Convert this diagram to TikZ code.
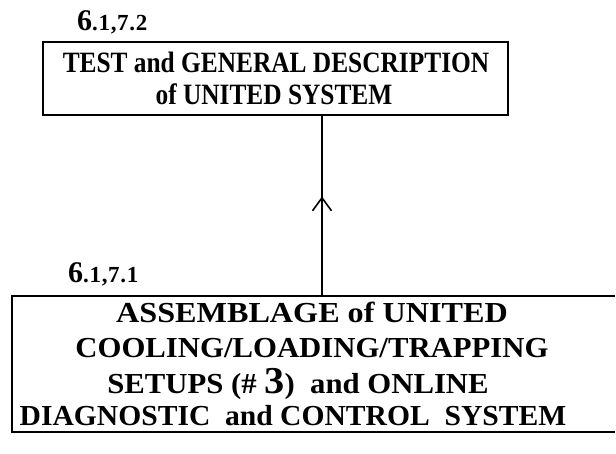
\documentclass[tikz,border=0pt]{standalone}
\usepackage{fontspec}
\setmainfont{Liberation Serif}
\newfontfamily\narrowfont{Liberation Serif}[FakeStretch=0.86]
\newfontfamily\wideA{Liberation Serif}[FakeStretch=1.11]
\newfontfamily\wideB{Liberation Serif}[FakeStretch=1.06]
\newfontfamily\wideC{Liberation Serif}[FakeStretch=1.02]
\newfontfamily\lblfont{Liberation Serif}[LetterSpace=3]
\usetikzlibrary{arrows.meta,decorations.markings}
\begin{document}
\begin{tikzpicture}[x=1pt,y=-1pt,
  topline/.style={font=\narrowfont\bfseries\fontsize{29.5}{33}\selectfont, anchor=base, inner sep=0pt},
  botline/.style={font=\bfseries\fontsize{29}{33}\selectfont, anchor=base, inner sep=0pt},
  lbl/.style={font=\bfseries, anchor=base west, inner sep=0pt},
  conn/.style={line width=2pt},
  midarrow/.style={decoration={markings, mark=at position 0.55 with {\arrow{Straight Barb[length=13pt,width=19pt,line width=1.6pt]}}}, postaction=decorate}
]
\useasboundingbox (0,0) rectangle (616,453);
% top box
\node[draw, line width=1.8pt, minimum width=465pt, minimum height=73pt, inner sep=0pt] (top) at (275.5,78.5) {};
\node[topline] (t1) at (276,72) {TEST and GENERAL DESCRIPTION};
\node[topline] (t2) at (274,104) {of UNITED SYSTEM};
% bottom box
\node[minimum width=603pt, minimum height=136pt, inner sep=0pt] (bot) at (313.5,364) {};
\draw[line width=1.8pt] (bot.north east) -- (bot.north west) -- (bot.south west) -- (bot.south east);
\node[botline, font=\wideA\bfseries\fontsize{29}{33}\selectfont] (b1) at (312,322) {ASSEMBLAGE of UNITED};
\node[botline, font=\wideB\bfseries\fontsize{29}{33}\selectfont] (b2) at (312,357) {COOLING/LOADING/TRAPPING};
\node[botline, font=\wideB\bfseries\fontsize{29}{33}\selectfont] (b3) at (298,393) {SETUPS (\# {\fontsize{38}{35}\selectfont 3})\ \ and ONLINE};
\node[botline, font=\wideC\bfseries\fontsize{29}{33}\selectfont] (b4) at (293,425) {DIAGNOSTIC\ \ and CONTROL\ \ SYSTEM};
% labels
\node[lbl] (l1) at (77,30) {{\fontsize{30}{30}\selectfont 6}{\lblfont\bfseries\fontsize{23}{23}\selectfont .1,7.2}};
\node[lbl] (l2) at (68,282) {{\fontsize{30}{30}\selectfont 6}{\lblfont\bfseries\fontsize{23}{23}\selectfont .1,7.1}};
% connector
\coordinate (c1) at (322,296);
\coordinate (c2) at (322,115);
\draw[conn, midarrow] (c1) -- (c2);
\end{tikzpicture}
\end{document}
